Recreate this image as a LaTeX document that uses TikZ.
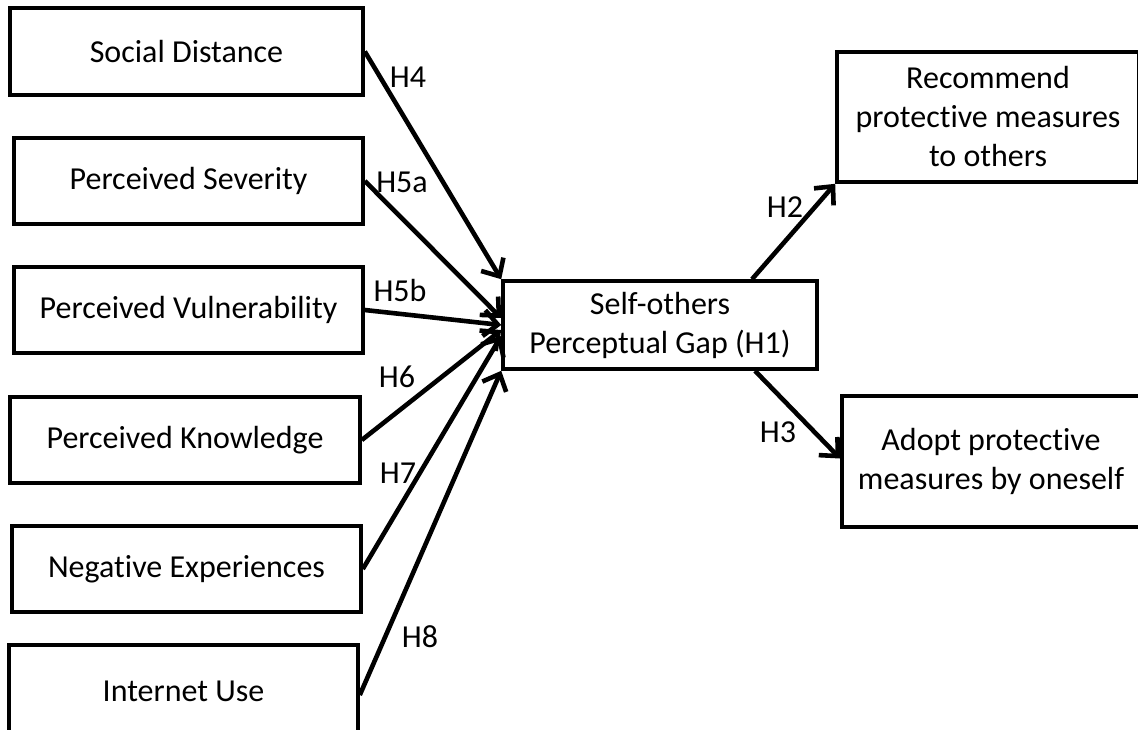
\documentclass[tikz,border=0pt]{standalone}
\usepackage{fontspec}
\setmainfont{Carlito}[Ligatures=NoCommon]
\usetikzlibrary{arrows.meta,positioning,calc}
\tikzset{
    factor/.style={draw, line width=1.8pt, minimum height=43pt, inner sep=0pt,
        align=center, font=\fontsize{16}{19.5}\selectfont},
    hyp/.style={line width=2.3pt, -{Straight Barb[length=7pt,width=13pt]}},
    hlab/.style={inner sep=0pt, font=\fontsize{16}{19.5}\selectfont}
}

\begin{document}
\begin{tikzpicture}[x=0.5pt, y=-0.5pt]
    \useasboundingbox (0,0) rectangle (1138,729);
    \clip (0,0) rectangle (1138,729);

    % Predictors
    \node[factor, minimum width=176.5pt, minimum height=43.5pt] (sd) at (186.5,51.5) {Social Distance};
    \node[factor, minimum width=174.5pt] (sev) at (188.5,181) {Perceived Severity};
    \node[factor, minimum width=174.5pt] (vul) at (188.5,310) {Perceived Vulnerability};
    \node[factor, minimum width=175pt] (kno) at (185,440) {Perceived Knowledge};
    \node[factor, minimum width=174.5pt] (neg) at (186.5,569) {Negative Experiences};
    \node[factor, minimum width=174.5pt, minimum height=46pt] (inet) at (183.5,691) {Internet Use};

    % Mediator
    \node[factor, minimum width=157pt, minimum height=44pt] (gap) at (660,325) {Self-others\\Perceptual Gap (H1)};

    % Outcomes
    \node[factor, minimum width=151pt, minimum height=65pt] (rec) at (988,117) {Recommend\\protective measures\\to others};
    \node[factor, minimum width=149pt, minimum height=65.5pt] (adopt) at (991,461.5) {Adopt protective\\measures by oneself};

    % Paths
    \draw[hyp] (sd.east) -- (gap.north west);
    \draw[hyp] (sev.east) -- ([yshift=3.5pt]gap.west);
    \draw[hyp] (vul.east) -- (gap.west);
    \draw[hyp] (kno.east) -- ([yshift=-2.5pt]gap.west);
    \draw[hyp] (neg.east) -- ([yshift=-5.5pt]gap.west);
    \draw[hyp] ([yshift=-2pt]inet.east) -- (gap.south west);
    \draw[hyp] ([xshift=46pt]gap.north) -- (rec.south west);
    \draw[hyp] ([xshift=47.5pt]gap.south) -- ([yshift=1.5pt]adopt.west);

    % Hypothesis labels
    \node[hlab] (lh4) at (408,77) {H4};
    \node[hlab] (lh5a) at (402,182) {H5a};
    \node[hlab] (lh5b) at (400,290) {H5b};
    \node[hlab] (lh6) at (397,377) {H6};
    \node[hlab] (lh7) at (398,473) {H7};
    \node[hlab] (lh8) at (420,637) {H8};
    \node[hlab] (lh2) at (785,207) {H2};
    \node[hlab] (lh3) at (778,432) {H3};
\end{tikzpicture}
\end{document}
